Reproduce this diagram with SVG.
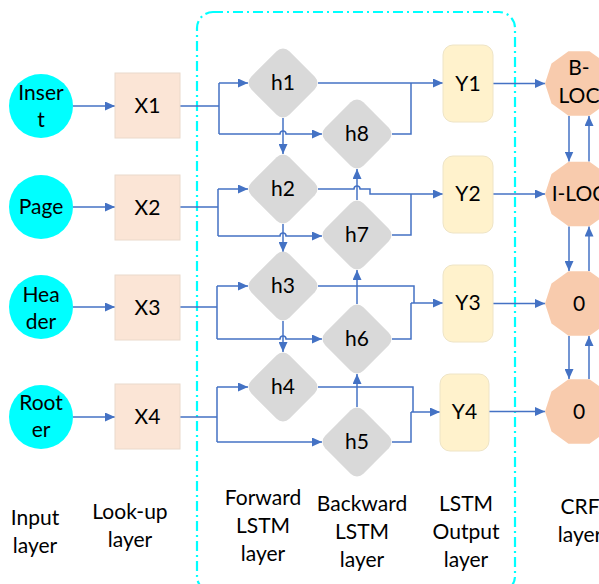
<svg xmlns="http://www.w3.org/2000/svg" width="599" height="584" viewBox="0 0 599 584">
<style>
text{font-family:Lato,"Liberation Sans",sans-serif;font-size:21px;fill:#000;text-anchor:middle}
.in{fill:#00ffff}
.x{fill:#fbe5d6;stroke:#ead9cb;stroke-width:1}
.h{fill:#d9d9d9}
.y{fill:#fff2cc;stroke:#eee4c6;stroke-width:1}
.c{fill:#f8cbad}
.ln{fill:none;stroke:#4472c4;stroke-width:1.5}
.ar{marker-end:url(#ah)}
.box{fill:none;stroke:#00ffff;stroke-width:2.2;stroke-dasharray:10 4 2 4}
</style>
<defs>
<marker id="ah" markerUnits="userSpaceOnUse" markerWidth="11" markerHeight="9" refX="10" refY="4.5" orient="auto">
<path d="M0,0 L10,4.5 L0,9 z" fill="#4472c4"/>
</marker>
<rect id="dia" x="-27" y="-27" width="54" height="54" rx="9" transform="rotate(45)"/>
<polygon id="dec" points="34,0 27.5,20 10.5,32.3 -10.5,32.3 -27.5,20 -34,0 -27.5,-20 -10.5,-32.3 10.5,-32.3 27.5,-20"/>
</defs>
<rect class="box" x="197" y="12" width="318" height="580" rx="16"/>

<g id="connectors">
<path class="ln ar" d="M73,106 H115"/>
<path class="ln ar" d="M73,207 H115"/>
<path class="ln ar" d="M73,307 H115"/>
<path class="ln ar" d="M73,417 H115"/>

<path class="ln" d="M180,106 H219 M219,83 V134"/>
<path class="ln ar" d="M219,83 H248"/>
<path class="ln ar" d="M219,134 H280 a3,3 0 0 1 6,0 H322"/>
<path class="ln ar" d="M283,118 V154"/>

<path class="ln" d="M180,207 H218 M218,189 V236"/>
<path class="ln ar" d="M218,189 H248"/>
<path class="ln ar" d="M218,236 H280 a3,3 0 0 1 6,0 H322"/>
<path class="ln ar" d="M283,224 V252"/>

<path class="ln" d="M180,307 H217 M217,286 V339"/>
<path class="ln ar" d="M217,286 H248"/>
<path class="ln ar" d="M217,339 H280 a3,3 0 0 1 6,0 H322"/>
<path class="ln ar" d="M283,321 V352"/>

<path class="ln" d="M180,417 H217 M217,387 V442"/>
<path class="ln ar" d="M217,387 H248"/>
<path class="ln ar" d="M217,442 H322"/>

<path class="ln ar" d="M357,200 V169"/>
<path class="ln ar" d="M357,304 V270"/>
<path class="ln ar" d="M357,407 V374"/>

<path class="ln ar" d="M318,83 H443"/>
<path class="ln" d="M392,134 H411 V83"/>
<path class="ln ar" d="M318,189 H354 a3,3 0 0 1 6,0 H370 V194 H443"/>
<path class="ln" d="M392,235 H411 V194"/>
<path class="ln" d="M318,286 H414 V303"/>
<path class="ln ar" d="M411,303 H443"/>
<path class="ln" d="M392,339 H411 V303"/>
<path class="ln" d="M318,387 H413 V412"/>
<path class="ln ar" d="M411,412 H440"/>
<path class="ln" d="M392,442 H411 V412"/>

<path class="ln ar" d="M493,83.5 H545"/>
<path class="ln ar" d="M493,194 H545"/>
<path class="ln ar" d="M493,303.5 H545"/>
<path class="ln ar" d="M489,411.5 H545"/>

<path class="ln ar" d="M569,116 V161.5"/>
<path class="ln ar" d="M589,161.5 V116"/>
<path class="ln ar" d="M569,226.5 V271"/>
<path class="ln ar" d="M589,271 V226.5"/>
<path class="ln ar" d="M569,336 V379"/>
<path class="ln ar" d="M589,379 V336"/>
</g>

<g id="insert"><circle class="in" cx="41" cy="106" r="32"/><text x="41" y="100">Inser</text><text x="41" y="127">t</text></g>
<g id="page"><circle class="in" cx="41" cy="207" r="32"/><text x="41" y="214">Page</text></g>
<g id="header"><circle class="in" cx="41" cy="307" r="32"/><text x="41" y="302">Hea</text><text x="41" y="329">der</text></g>
<g id="rooter"><circle class="in" cx="41" cy="417" r="32"/><text x="41" y="410">Root</text><text x="41" y="437">er</text></g>

<g id="x1"><rect class="x" x="115" y="73" width="65" height="65"/><text x="147.5" y="113">X1</text></g>
<g id="x2"><rect class="x" x="115" y="175" width="65" height="65"/><text x="147.5" y="215">X2</text></g>
<g id="x3"><rect class="x" x="115" y="275" width="65" height="65"/><text x="147.5" y="315">X3</text></g>
<g id="x4"><rect class="x" x="115" y="384" width="65" height="65"/><text x="147.5" y="424">X4</text></g>

<g id="h1"><use href="#dia" class="h" x="283" y="83"/><text x="283" y="90">h1</text></g>
<g id="h2"><use href="#dia" class="h" x="283" y="189"/><text x="283" y="196">h2</text></g>
<g id="h3"><use href="#dia" class="h" x="283" y="286"/><text x="283" y="293">h3</text></g>
<g id="h4"><use href="#dia" class="h" x="283" y="387"/><text x="283" y="394">h4</text></g>
<g id="h8"><use href="#dia" class="h" x="357" y="134"/><text x="357" y="141">h8</text></g>
<g id="h7"><use href="#dia" class="h" x="357" y="235"/><text x="357" y="242">h7</text></g>
<g id="h6"><use href="#dia" class="h" x="357" y="339"/><text x="357" y="346">h6</text></g>
<g id="h5"><use href="#dia" class="h" x="357" y="442"/><text x="357" y="449">h5</text></g>

<g id="y1"><rect class="y" x="443" y="45" width="50" height="77" rx="10"/><text x="468" y="91">Y1</text></g>
<g id="y2"><rect class="y" x="443" y="156" width="50" height="77" rx="10"/><text x="468" y="201">Y2</text></g>
<g id="y3"><rect class="y" x="443" y="265" width="50" height="77" rx="10"/><text x="468" y="310">Y3</text></g>
<g id="y4"><rect class="y" x="440" y="374" width="49" height="77" rx="10"/><text x="464.5" y="419">Y4</text></g>

<g id="bloc"><use href="#dec" class="c" x="579" y="83.5"/><text x="579" y="75">B-</text><text x="579" y="103">LOC</text></g>
<g id="iloc"><use href="#dec" class="c" x="579" y="194"/><text x="579" y="201">I-LOC</text></g>
<g id="o1"><use href="#dec" class="c" x="579" y="303.5"/><text x="579" y="311">0</text></g>
<g id="o2"><use href="#dec" class="c" x="579" y="411.5"/><text x="579" y="419">0</text></g>

<g id="labels">
<text x="35" y="525">Input</text><text x="35" y="553">layer</text>
<text x="130" y="519">Look-up</text><text x="130" y="547">layer</text>
<text x="263" y="505">Forward</text><text x="263" y="533">LSTM</text><text x="263" y="561">layer</text>
<text x="362" y="511">Backward</text><text x="362" y="539">LSTM</text><text x="362" y="567">layer</text>
<text x="466" y="511">LSTM</text><text x="466" y="539">Output</text><text x="466" y="567">layer</text>
<text x="580" y="514">CRF</text><text x="580" y="542">layer</text>
</g>
</svg>
